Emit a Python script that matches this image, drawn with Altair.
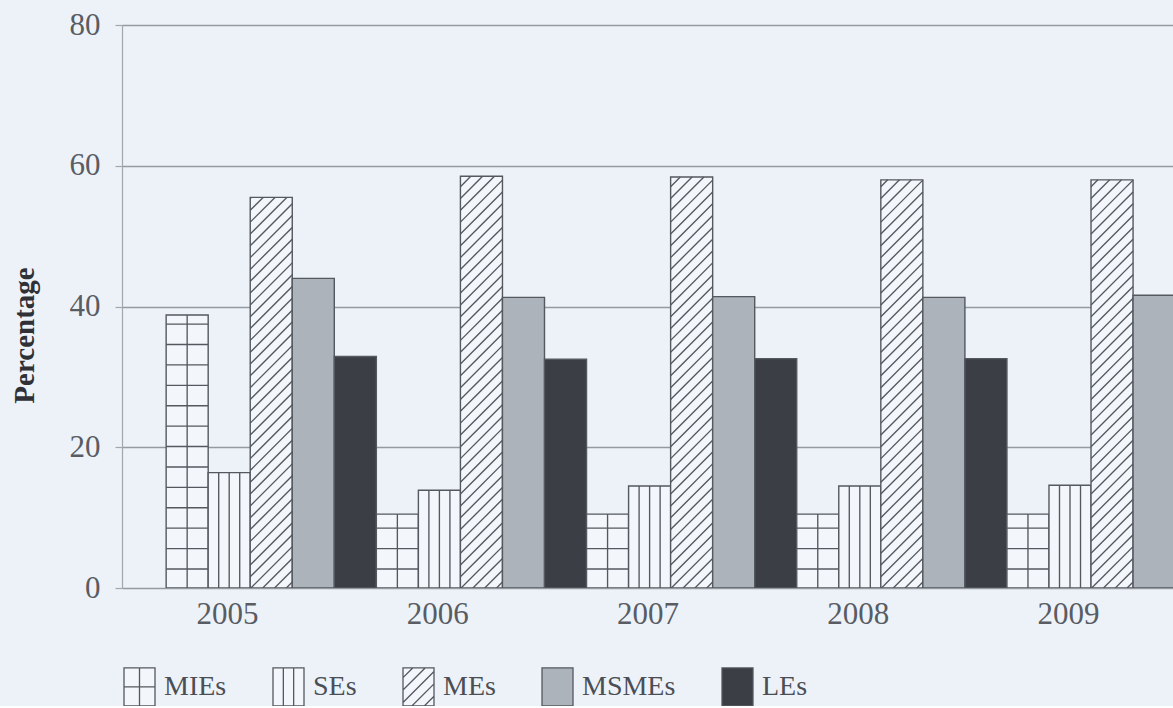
import altair as alt
import pandas as pd

# ---- data -------------------------------------------------------------
years = ["2005", "2006", "2007", "2008", "2009"]
series = ["MIEs", "SEs", "MEs", "MSMEs", "LEs"]

mies = [38.8, 10.5, 10.5, 10.5, 10.5]
ses = [16.4, 13.9, 14.5, 14.5, 14.6]
mes = [55.5, 58.5, 58.4, 58.0, 58.0]
msmes = [44.0, 41.3, 41.4, 41.3, 41.6]
les = [32.9, 32.5, 32.6, 32.6, None]   # 2009 LEs falls outside the frame

values = dict(zip(series, [mies, ses, mes, msmes, les]))

# ---- layout / style ---------------------------------------------------
PLOT_W, PLOT_H = 1051, 563
Y_MAX = 80
BAR_W = 0.2          # bar width as a fraction of one year slot
LEAD = 0.21          # first bar starts this far into its year slot

PAPER = "#edf2f9"
LIGHT = "#f3f6fb"
LINE = "#54585f"
fills = [LIGHT, LIGHT, LIGHT, "#adb3bb", "#3b3e44"]
fill_of = dict(zip(series, fills))

SERIF = "Liberation Serif"

rows = []
for yi, yr in enumerate(years):
    for si, s in enumerate(series):
        v = values[s][yi]
        if v is None:
            continue
        x0 = yi + LEAD + si * BAR_W
        rows.append({"year": yr, "series": s, "value": v, "x0": x0, "x1": x0 + BAR_W,
                     "paint": fill_of[s]})
df = pd.DataFrame(rows)

# ---- fill patterns (grid, vertical lines, diagonal hatch) ------------
px_x = PLOT_W / len(years)
px_y = PLOT_H / Y_MAX
rise = BAR_W * px_x / px_y          # 45-degree rise across one bar, in y units
GRID_START, GRID_STEP = 2.7, 2.9
HATCH_STEP = 1.68

segs = []
for r in rows:
    x0, x1, v, s = r["x0"], r["x1"], r["value"], r["series"]
    if s == "MIEs":
        xm = (x0 + x1) / 2
        segs.append((xm, 0, xm, v))
        yy = GRID_START
        while yy < v - 0.3:
            segs.append((x0, yy, x1, yy))
            yy += GRID_STEP
    elif s == "SEs":
        for f in (0.25, 0.5, 0.75):
            xx = x0 + f * BAR_W
            segs.append((xx, 0, xx, v))
    elif s == "MEs":
        c = -rise + HATCH_STEP * 0.5
        while c < v:
            t0 = max(0.0, -c / rise)
            t1 = min(1.0, (v - c) / rise)
            if t1 > t0:
                segs.append((x0 + t0 * BAR_W, c + t0 * rise, x0 + t1 * BAR_W, c + t1 * rise))
            c += HATCH_STEP
seg_df = pd.DataFrame(segs, columns=["x0", "value", "x1", "top"])

# ---- legend swatch shapes (unit-square SVG paths) --------------------
H = 1.226
box = f"M-1,-{H}H1V{H}H-1Z"


def hatch_path():
    parts = []
    for c in (-1.6, -0.8, 0.0, 0.8, 1.6):
        xa = max(-1.0, c - H)
        xb = min(1.0, c + H)
        parts.append(f"M{xa:.3f},{c - xa:.3f}L{xb:.3f},{c - xb:.3f}")
    return "".join(parts)


paths = [
    box + f"M0,-{H}V{H}M-1,0H1",
    box + f"M-0.333,-{H}V{H}M0.333,-{H}V{H}",
    box + hatch_path(),
    box,
    box,
]

# ---- chart -------------------------------------------------------------
x_scale = alt.Scale(domain=[0, len(years)], nice=False, zero=False)
y_scale = alt.Scale(domain=[0, Y_MAX], nice=False)

label_expr = "[" + ",".join(f"'{y}'" for y in years) + "][floor(datum.value)]"

x_axis = alt.Axis(
    values=[i + 0.5 for i in range(len(years))],
    labelExpr=label_expr,
    grid=False, domain=False, ticks=False,
    labelFont=SERIF, labelFontSize=31, labelColor="#595c63",
    labelPadding=11, labelBaseline="top",
)
y_axis = alt.Axis(
    values=[0, 20, 40, 60, 80],
    grid=True, gridColor="#959aa1", gridWidth=1.3,
    domainColor="#a3a7ad", domainWidth=1.2,
    tickColor="#a3a7ad", tickSize=7, tickWidth=1.2,
    labelFont=SERIF, labelFontSize=31, labelColor="#595c63", labelPadding=15,
    titleFont=SERIF, titleFontSize=29, titleFontWeight="bold",
    titleColor="#2f3136", titleAngle=270, titleX=-98, titleY=310,
    titleBaseline="middle", titleAlign="center",
)

legend = alt.Legend(
    title=None, orient="none", direction="horizontal",
    legendX=1, legendY=645, padding=0,
    columnPadding=43, labelOffset=8,
    labelFont=SERIF, labelFontSize=28, labelColor="#4b4e54",
    symbolSize=961, symbolStrokeWidth=1.3,
    symbolOpacity=1,
)

X = alt.X("x0:Q", scale=x_scale, axis=x_axis, title=None)
Y = alt.Y("value:Q", scale=y_scale, axis=y_axis, title="Percentage")

bars = alt.Chart(df).mark_bar(stroke=LINE, strokeWidth=1.4, clip=True).encode(
    x=X,
    x2="x1:Q",
    y=Y,
    y2=alt.datum(0),
    color=alt.Color("paint:N", scale=None),
)

pattern = alt.Chart(seg_df).mark_rule(color=LINE, strokeWidth=1.35, clip=True).encode(
    x=X,
    x2="x1:Q",
    y=Y,
    y2="top:Q",
)

# invisible point layer that carries the patterned legend keys
keys = alt.Chart(df).mark_point(
    filled=True, size=961, strokeWidth=1.3, opacity=0
).encode(
    fill=alt.Fill("series:N", scale=alt.Scale(domain=series, range=fills), legend=legend),
    stroke=alt.Stroke("series:N", scale=alt.Scale(domain=series, range=[LINE] * len(series)),
                      legend=legend),
    shape=alt.Shape("series:N", scale=alt.Scale(domain=series, range=paths), legend=legend),
)

chart = (
    alt.layer(bars, pattern, keys)
    .properties(
        width=PLOT_W, height=PLOT_H,
        autosize="none",
        padding={"left": 122, "top": 25, "right": 0, "bottom": 118},
        background=PAPER,
    )
    .configure_view(stroke=None)
)

chart.save("out.html", embed_options={"renderer": "svg", "actions": False})
